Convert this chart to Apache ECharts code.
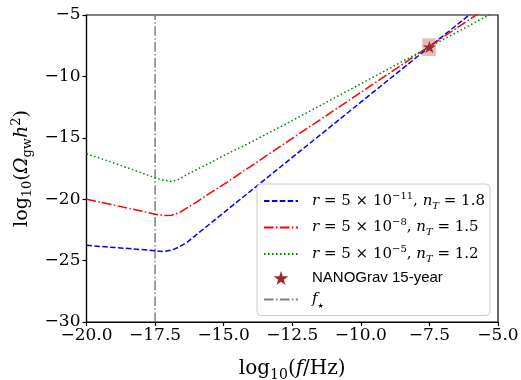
<!DOCTYPE html>
<html>
<head>
<meta charset="utf-8">
<script src="https://cdn.jsdelivr.net/npm/echarts@6.0.0/dist/echarts.min.js"></script>
<style>
  html, body { margin: 0; padding: 0; background: #fff; }
  #chart { width: 521px; height: 380px; }
</style>
</head>
<body>
<div id="chart"></div>
<script>
// log10(f/Hz) sample points shared by the three spectra
const logF = [-20, -19, -18, -17.5, -17.2, -16.9, -16.6, -16.3, -16, -15.5, -15, -14, -12.5, -10, -7.5, -5];

// log10(Omega_gw h^2)
const specA = [-23.76, -23.93, -24.1, -24.2, -24.27, -24.15, -23.87, -23.45, -22.9, -22.0, -21.1, -19.3, -16.6, -12.1, -7.6, -3.1];
const specB = [-20.0, -20.48, -20.96, -21.22, -21.33, -21.3, -21.08, -20.65, -20.25, -19.5, -18.8, -17.3, -15.05, -11.3, -7.55, -3.8];
const specC = [-16.3, -17.05, -17.85, -18.25, -18.45, -18.56, -18.35, -17.95, -17.6, -17.05, -16.45, -15.35, -13.6, -10.6, -7.6, -4.6];

// NANOGrav 15-year point and its box
const nanoPoint = [-7.5, -7.6];
const nanoBoxX = [-7.76, -7.27];
const nanoBoxY = [-8.34, -6.9];

// f_star
const fStar = -17.5;

const serif = 'DejaVu Serif';
const sans = 'Liberation Sans';

const minus = s => String(s).replace('-', '\u2212');

const legendRich = {
  t: { fontFamily: serif, fontSize: 15, lineHeight: 20, color: '#000' },
  m: { fontFamily: serif, fontSize: 15, fontStyle: 'italic', lineHeight: 20, color: '#000' },
  sp: { fontFamily: serif, fontSize: 10, lineHeight: 10, verticalAlign: 'top', color: '#000' },
  sb: { fontFamily: serif, fontSize: 10, fontStyle: 'italic', lineHeight: 14, verticalAlign: 'bottom', color: '#000' },
  st: { fontFamily: 'DejaVu Sans', fontSize: 7, lineHeight: 12, verticalAlign: 'bottom', color: '#000' },
  s: { fontFamily: sans, fontSize: 15, lineHeight: 20, color: '#000' }
};

const names = {
  a: 'r=5e-11, nT=1.8',
  b: 'r=5e-8, nT=1.5',
  c: 'r=5e-5, nT=1.2',
  ng: 'NANOGrav 15-year',
  fs: 'f_star'
};

const legendText = {};
legendText[names.a] = '{m|r}{t| = 5 × 10}{sp|\u221211}{t|, }{m|n}{sb|T}{t| = 1.8}';
legendText[names.b] = '{m|r}{t| = 5 × 10}{sp|\u22128}{t|, }{m|n}{sb|T}{t| = 1.5}';
legendText[names.c] = '{m|r}{t| = 5 × 10}{sp|\u22125}{t|, }{m|n}{sb|T}{t| = 1.2}';
legendText[names.ng] = '{s|NANOGrav 15-year}';
legendText[names.fs] = '{m|f}{st|\u2605}';

const starPath = 'path://M50,2 L61.2,36.5 L97.6,36.5 L68.2,57.9 L79.4,92.5 L50,71.1 L20.6,92.5 L31.8,57.9 L2.4,36.5 L38.8,36.5 Z';

const pairs = ys => logF.map((x, i) => [x, ys[i]]);

const chart = echarts.init(document.getElementById('chart'), null, { renderer: 'canvas' });

const noDot = { opacity: 0 };

const option = {
  animation: false,
  backgroundColor: '#fff',
  grid: {
    left: 86.5, right: 23, top: 15, bottom: 58,
    outerBoundsMode: 'none',
    containLabel: false,
    show: true, borderColor: '#000', borderWidth: 1.2, backgroundColor: 'transparent'
  },
  xAxis: {
    type: 'value',
    min: -20, max: -5, interval: 2.5,
    name: '{t|log}{sb|10}{t|(}{m|f}{t|/Hz)}',
    nameLocation: 'middle',
    nameGap: 34,
    nameTextStyle: {
      rich: {
        t: { fontFamily: serif, fontSize: 20, lineHeight: 26, color: '#000' },
        m: { fontFamily: serif, fontSize: 20, fontStyle: 'italic', lineHeight: 26, color: '#000' },
        sb: { fontFamily: serif, fontSize: 14, lineHeight: 17, verticalAlign: 'bottom', color: '#000' }
      }
    },
    axisLine: { show: true, onZero: false, lineStyle: { color: '#000', width: 1.2 } },
    axisTick: { show: true, inside: false, length: 4, lineStyle: { color: '#000', width: 1.2 } },
    splitLine: { show: false },
    axisLabel: {
      margin: 5,
      fontFamily: serif, fontSize: 17, color: '#000',
      formatter: v => minus(v.toFixed(1))
    }
  },
  yAxis: {
    type: 'value',
    min: -30, max: -5, interval: 5,
    name: '{t|log}{sb|10}{t|(}{m|Ω}{sb|gw}{m|h}{sp|2}{t|)}',
    nameLocation: 'middle',
    nameRotate: 90,
    nameGap: 48,
    nameTextStyle: {
      rich: {
        t: { fontFamily: serif, fontSize: 19, lineHeight: 24, color: '#000' },
        m: { fontFamily: serif, fontSize: 19, fontStyle: 'italic', lineHeight: 24, color: '#000' },
        sb: { fontFamily: serif, fontSize: 13, lineHeight: 16, verticalAlign: 'bottom', color: '#000' },
        sp: { fontFamily: serif, fontSize: 13, lineHeight: 13, verticalAlign: 'top', color: '#000' }
      }
    },
    axisLine: { show: true, onZero: false, lineStyle: { color: '#000', width: 1.2 } },
    axisTick: { show: true, inside: false, length: 4, lineStyle: { color: '#000', width: 1.2 } },
    splitLine: { show: false },
    axisLabel: {
      margin: 6,
      fontFamily: serif, fontSize: 17, color: '#000',
      formatter: v => minus(v)
    }
  },
  legend: {
    orient: 'vertical',
    left: 257, top: 184,
    padding: [7, 5, 6, 6],
    itemGap: 6.5,
    itemWidth: 34,
    itemHeight: 14,
    backgroundColor: 'rgba(255,255,255,0.8)',
    borderColor: '#cccccc',
    borderWidth: 1,
    borderRadius: 4,
    data: [
      { name: names.a, itemStyle: noDot },
      { name: names.b, itemStyle: noDot },
      { name: names.c, itemStyle: noDot },
      { name: names.ng },
      { name: names.fs, itemStyle: noDot }
    ],
    formatter: n => legendText[n],
    textStyle: { padding: [0, 0, 0, 9], rich: legendRich }
  },
  series: [
    {
      name: names.a, type: 'line', data: pairs(specA),
      symbol: 'none', color: '#0000ff', clip: true,
      lineStyle: { color: '#0000ff', width: 1.5, type: [5.5, 2.4] },
      z: 3
    },
    {
      name: names.b, type: 'line', data: pairs(specB),
      symbol: 'none', color: '#ff0000', clip: true,
      lineStyle: { color: '#ff0000', width: 1.5, type: [9.6, 2.4, 1.5, 2.4] },
      z: 3
    },
    {
      name: names.c, type: 'line', data: pairs(specC),
      symbol: 'none', color: '#008000', clip: true,
      lineStyle: { color: '#008000', width: 1.5, type: [1.5, 2.5] },
      z: 3
    },
    {
      name: names.ng, type: 'scatter', data: [nanoPoint],
      symbol: starPath, symbolSize: 13, symbolKeepAspect: true,
      itemStyle: { color: '#a0282a', opacity: 1 },
      z: 5,
      markArea: {
        silent: true,
        itemStyle: { color: 'rgba(178,40,48,0.32)' },
        data: [[{ coord: [nanoBoxX[0], nanoBoxY[1]] }, { coord: [nanoBoxX[1], nanoBoxY[0]] }]]
      }
    },
    {
      name: names.fs, type: 'line', data: [[fStar, -30], [fStar, -5]],
      symbol: 'none', color: '#808080',
      lineStyle: { color: '#808080', width: 1.5, type: [9.6, 2.4, 1.5, 2.4] },
      z: 2
    }
  ]
};

chart.setOption(option);
</script>
</body>
</html>
